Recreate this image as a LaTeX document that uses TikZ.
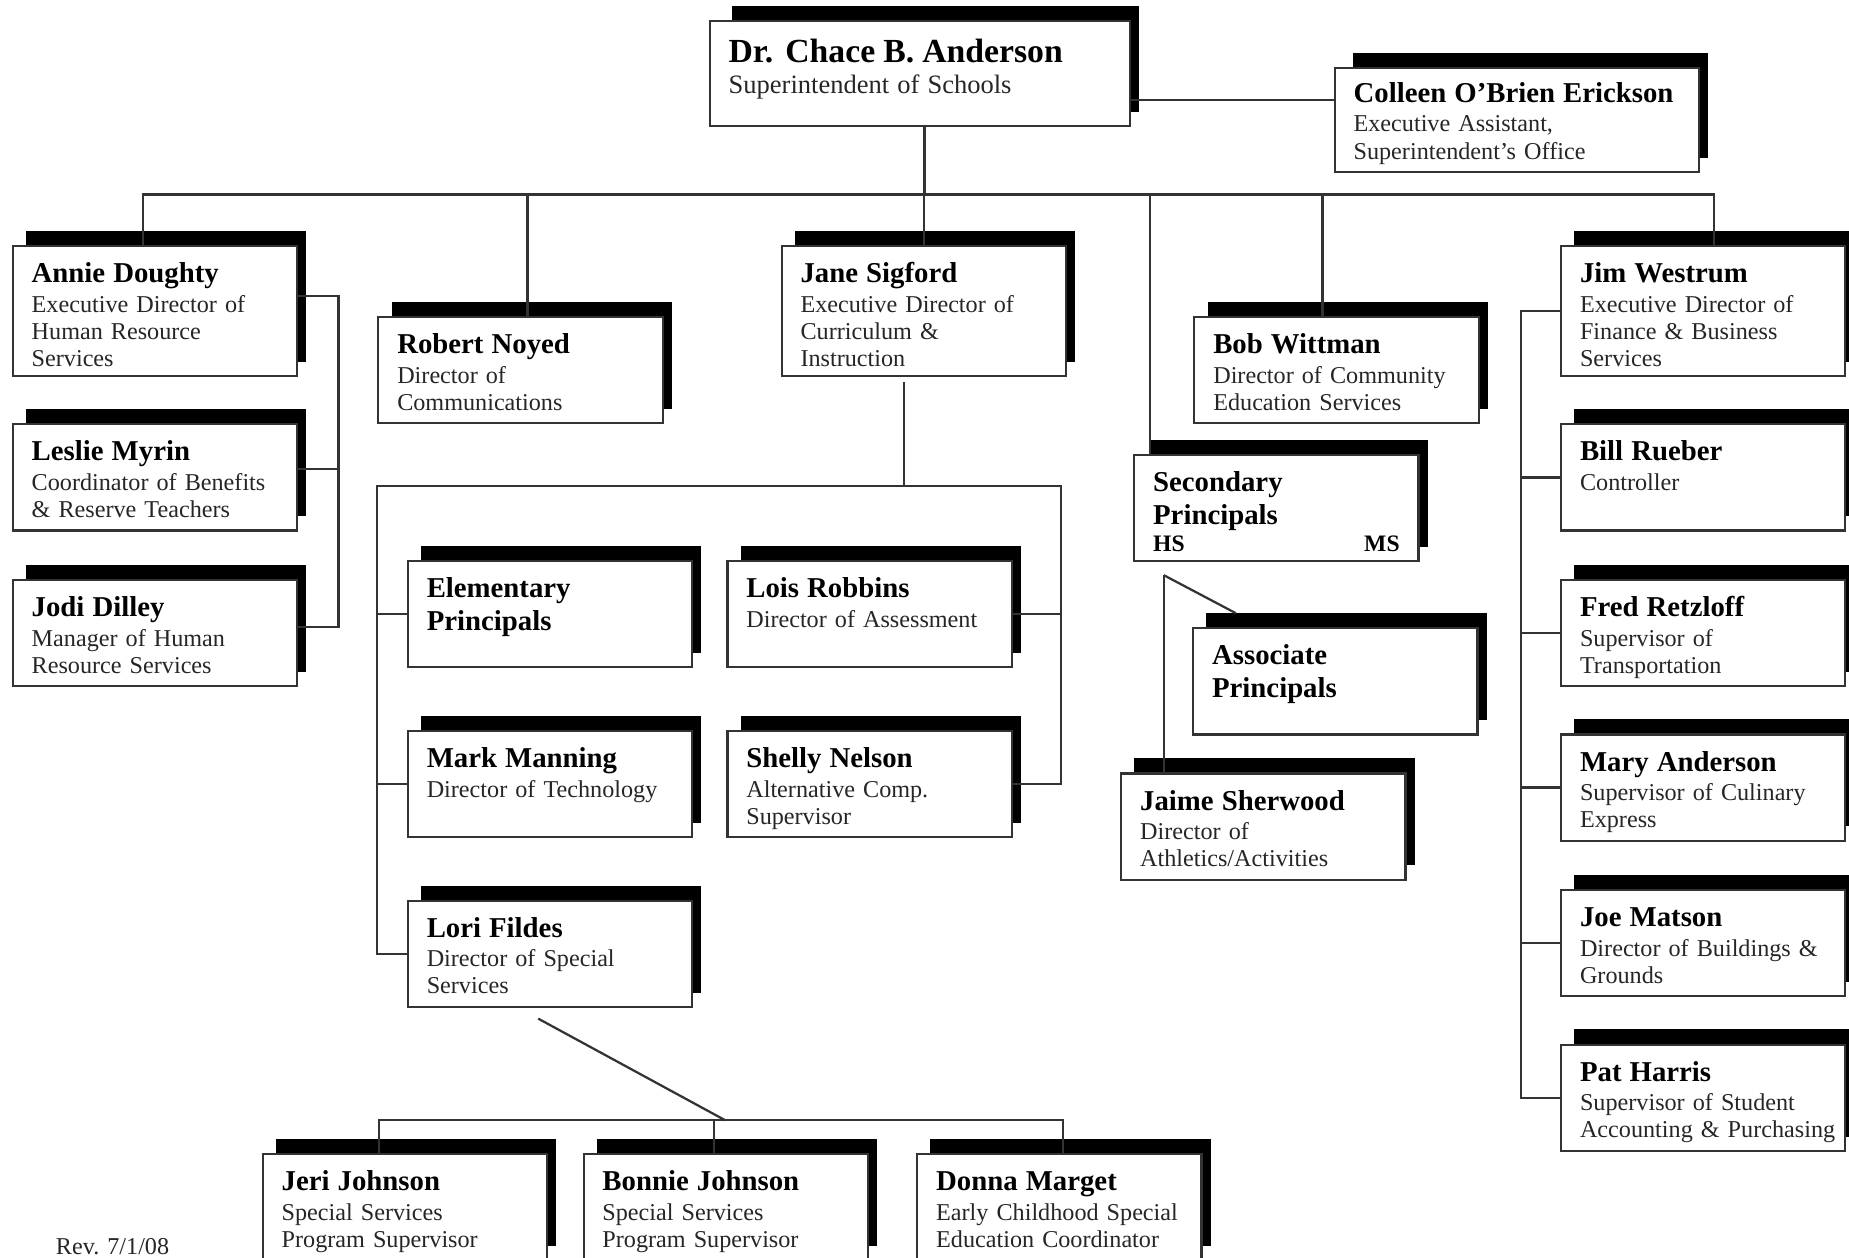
\documentclass[tikz,border=0pt]{standalone}
\usepackage{fontspec}
\setmainfont{Liberation Serif}
\usetikzlibrary{positioning, calc, backgrounds}

\newcommand{\orgname}{\fontsize{12.2}{14}\selectfont\bfseries\color{black}}
\newcommand{\orgtitle}{\fontsize{10.25}{11.5}\selectfont}

\tikzset{
  orgbox/.style={draw=black!80, line width=0.9pt, fill=white, anchor=north west,
    align=left, inner xsep=8pt, inner ysep=0pt, minimum width=120.5pt,
    text width=104.5pt, text height=15.5pt, text depth=29.5pt,
    text=black!85, font=\orgtitle},
  tallbox/.style={orgbox, text depth=39.5pt},
  orgline/.style={draw=black!80, line width=0.95pt}
}

\begin{document}
\begin{tikzpicture}[x=0.5pt, y=-0.5pt]
\useasboundingbox (0,0) rectangle (1568,1066);

% Superintendent and assistant
\node[orgbox, minimum width=178pt, text width=162pt, text height=17.5pt, text depth=27pt] (chace) at (601,17)
  {{\fontsize{14.3}{16}\selectfont\bfseries\color{black} Dr. Chace B. Anderson}\\[1.5pt]
   \fontsize{11.25}{14}\selectfont Superintendent of Schools};
\node[orgbox, minimum width=154.5pt, text width=138.5pt, text height=14.5pt] (colleen) at (1131,57)
  {{\orgname\mbox{Colleen O'Brien Erickson}}\\[1pt] Executive Assistant,\\ Superintendent's Office};

% Human resources
\node[tallbox] (annie) at (10,208) {{\orgname Annie Doughty}\\[1pt] Executive Director of\\ Human Resource\\ Services};
\node[orgbox] (leslie) at (10,359) {{\orgname Leslie Myrin}\\[1pt] Coordinator of Benefits\\ \& Reserve Teachers};
\node[orgbox] (jodi) at (10,491) {{\orgname Jodi Dilley}\\[1pt] Manager of Human\\ Resource Services};

\node[orgbox] (robert) at (320,268) {{\orgname Robert Noyed}\\[1pt] Director of\\ Communications};

% Curriculum & instruction
\node[tallbox] (jane) at (662,208) {{\orgname Jane Sigford}\\[1pt] Executive Director of\\ Curriculum \&\\ Instruction};
\node[orgbox] (elem) at (345,475) {\orgname Elementary\\[2.5pt] Principals};
\node[orgbox] (lois) at (616,475) {{\orgname Lois Robbins}\\[1pt] Director of Assessment};
\node[orgbox] (mark) at (345,619) {{\orgname Mark Manning}\\[1pt] Director of Technology};
\node[orgbox] (shelly) at (616,619) {{\orgname Shelly Nelson}\\[1pt] Alternative Comp.\\ Supervisor};
\node[orgbox] (lori) at (345,763) {{\orgname Lori Fildes}\\[1pt] Director of Special\\ Services};
\node[orgbox] (jeri) at (222,978) {{\orgname Jeri Johnson}\\[1pt] Special Services\\ Program Supervisor};
\node[orgbox] (bonnie) at (494,978) {{\orgname Bonnie Johnson}\\[1pt] Special Services\\ Program Supervisor};
\node[orgbox] (donna) at (777,978) {{\orgname Donna Marget}\\[1pt] Early Childhood Special\\ Education Coordinator};

% Community ed and secondary
\node[orgbox] (bob) at (1012,268) {{\orgname Bob Wittman}\\[1pt] Director of Community\\ Education Services};
\node[orgbox] (sec) at (961,385) {\orgname Secondary\\ Principals\\
  {\fontsize{10}{11}\selectfont\bfseries\makebox[\linewidth]{HS\hfill MS}}};
\node[orgbox] (assoc) at (1011,532) {\orgname Associate\\[2.5pt] Principals};
\node[orgbox] (jaime) at (950,655) {{\orgname Jaime Sherwood}\\[1pt] Director of\\ Athletics/Activities};

% Finance & business
\node[tallbox] (jim) at (1323,208) {{\orgname Jim Westrum}\\[1pt] Executive Director of\\ Finance \& Business\\ Services};
\node[orgbox] (bill) at (1323,359) {{\orgname Bill Rueber}\\[1pt] Controller};
\node[orgbox] (fred) at (1323,491) {{\orgname Fred Retzloff}\\[1pt] Supervisor of\\ Transportation};
\node[orgbox] (mary) at (1323,622) {{\orgname Mary Anderson}\\[1pt] Supervisor of Culinary\\ Express};
\node[orgbox] (joe) at (1323,754) {{\orgname Joe Matson}\\[1pt] Director of Buildings \&\\ Grounds};
\node[orgbox] (pat) at (1323,885) {{\orgname Pat Harris}\\[1pt] Supervisor of Student\\ \mbox{Accounting \& Purchasing}};

\node[anchor=base west, font=\orgtitle, text=black!85, inner sep=0pt] (rev) at (47,1064) {Rev. 7/1/08};

% drop shadows
\begin{scope}[on background layer]
\fill[white] (0,0) rectangle (1568,1066);
\foreach \n/\d in {chace/20, colleen/16, annie/12, leslie/12, jodi/12, robert/12, jane/12,
    elem/12, lois/12, mark/12, shelly/12, lori/12, jeri/12, bonnie/12, donna/12,
    bob/12, sec/14, assoc/12, jaime/12, jim/12, bill/12, fred/12, mary/12, joe/12, pat/12}
  \fill[black] ($(\n.north west)+(\d,-12)$) rectangle ($(\n.south east)+(7,-13)$);
\end{scope}

% connectors
\coordinate (asst) at (1040,85);
\coordinate (bus) at (0,165);
\coordinate (hrx) at (287,0);
\coordinate (cibus) at (0,412);
\coordinate (cil) at (320,0);
\coordinate (cir) at (900,0);
\coordinate (ssbus) at (0,950);
\coordinate (ssj) at (615,950);
\coordinate (fbx) at (1290,0);

\draw[orgline] (chace.east |- asst) -- (colleen.west |- asst);
\draw[orgline] ([xshift=2pt]chace.south) -- ([xshift=2pt]chace.south |- bus);
\draw[orgline] ([xshift=-5pt]annie.north) -- ([xshift=-5pt]annie.north |- bus)
  -- ([xshift=4.5pt]jim.north |- bus) -- ([xshift=4.5pt]jim.north);
\draw[orgline] ([xshift=3pt]robert.north) -- ([xshift=3pt]robert.north |- bus);
\draw[orgline] (jane.north) -- (jane.north |- bus);
\draw[orgline] ([xshift=7pt]sec.north west) -- ([xshift=7pt]sec.north west |- bus);
\draw[orgline] ([xshift=-6pt]bob.north) -- ([xshift=-6pt]bob.north |- bus);

% HR bracket
\draw[orgline] ([yshift=6.5pt]annie.east) -- ([yshift=6.5pt]annie.east -| hrx)
  -- ([yshift=2.5pt]jodi.east -| hrx) -- ([yshift=2.5pt]jodi.east);
\draw[orgline] ([yshift=3.5pt]leslie.east) -- ([yshift=3.5pt]leslie.east -| hrx);

% curriculum group
\draw[orgline] ([xshift=-8.5pt,yshift=-2pt]jane.south) -- ([xshift=-8.5pt]jane.south |- cibus);
\draw[orgline] (lori.west) -- (lori.west -| cil) -- (cil |- cibus) -- (cir |- cibus)
  -- (shelly.east -| cir) -- (shelly.east);
\draw[orgline] (elem.west) -- (elem.west -| cil);
\draw[orgline] (mark.west) -- (mark.west -| cil);
\draw[orgline] (lois.east) -- (lois.east -| cir);

% special services
\draw[orgline] ([xshift=-5pt,yshift=-4.5pt]lori.south) -- (ssj);
\draw[orgline] ([xshift=-11pt]jeri.north) -- ([xshift=-11pt]jeri.north |- ssbus)
  -- ([xshift=1.5pt]donna.north |- ssbus) -- ([xshift=1.5pt]donna.north);
\draw[orgline] ([xshift=-5pt]bonnie.north) -- ([xshift=-5pt]bonnie.north |- ssbus);

% secondary
\draw[orgline] ([xshift=13pt,yshift=-5.5pt]sec.south west) -- ([xshift=13pt]sec.south west |- jaime.north);
\draw[orgline] ([xshift=13pt,yshift=-5.5pt]sec.south west) -- ([xshift=18.5pt,yshift=6pt]assoc.north west);

% finance bracket
\draw[orgline] (jim.west) -- (jim.west -| fbx) -- (pat.west -| fbx) -- (pat.west);
\foreach \n in {bill, fred, mary, joe}
  \draw[orgline] (\n.west) -- (\n.west -| fbx);
\end{tikzpicture}
\end{document}
